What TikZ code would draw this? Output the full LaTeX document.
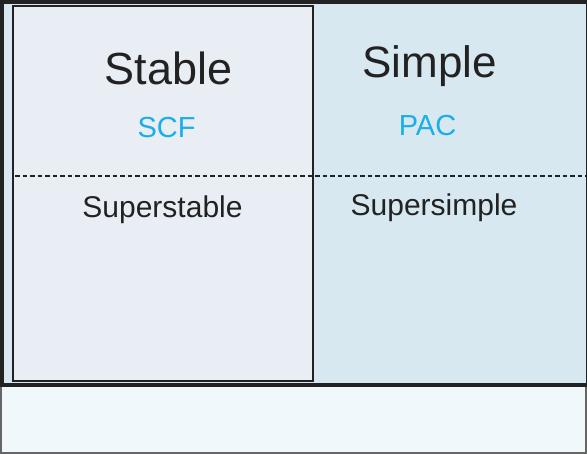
\documentclass[tikz,border=0pt]{standalone}
\usepackage{fontspec}
\setmainfont{Liberation Sans}
\definecolor{simplefill}{HTML}{D8E8F0}
\definecolor{stablefill}{HTML}{E8EEF3}
\definecolor{basefill}{HTML}{F0F8FB}
\definecolor{framecol}{HTML}{222222}
\definecolor{textcol}{HTML}{222222}
\definecolor{labelcol}{HTML}{1AAEEA}
\begin{document}
\begin{tikzpicture}[x=1pt,y=-1pt]
      \useasboundingbox (0,0) rectangle (587,454);
      % regions
      \draw[fill=basefill,draw=gray!80!black,line width=1.5pt] (1,386) rectangle (586,453);
      \draw[fill=simplefill,draw=framecol,line width=3.2pt] (2,2) rectangle (588,385);
      \draw[fill=stablefill,draw=framecol,line width=2.5pt] (13,6) rectangle (313,381);
      \draw[framecol,line width=2pt,dash pattern=on 4.5pt off 3pt] (15,176) -- (587,176);
      % labels
      \node[anchor=base,text=textcol,font=\fontsize{45}{45}\selectfont,inner sep=0] (stable) at (168.5,85) {Stable};
      \node[anchor=base,text=textcol,font=\fontsize{44}{44}\selectfont,inner sep=0] (simple) at (429.5,78) {Simple};
      \node[anchor=base,text=labelcol,font=\fontsize{29}{29}\selectfont,inner sep=0] (scf) at (166.5,138) {SCF};
      \node[anchor=base,text=labelcol,font=\fontsize{29}{29}\selectfont,inner sep=0] (pac) at (427.5,136) {PAC};
      \node[anchor=base,text=textcol,font=\fontsize{30}{30}\selectfont,inner sep=0] (superstable) at (162.5,218) {Superstable};
      \node[anchor=base,text=textcol,font=\fontsize{30}{30}\selectfont,inner sep=0] (supersimple) at (434,216) {Supersimple};
    \end{tikzpicture}
\end{document}
